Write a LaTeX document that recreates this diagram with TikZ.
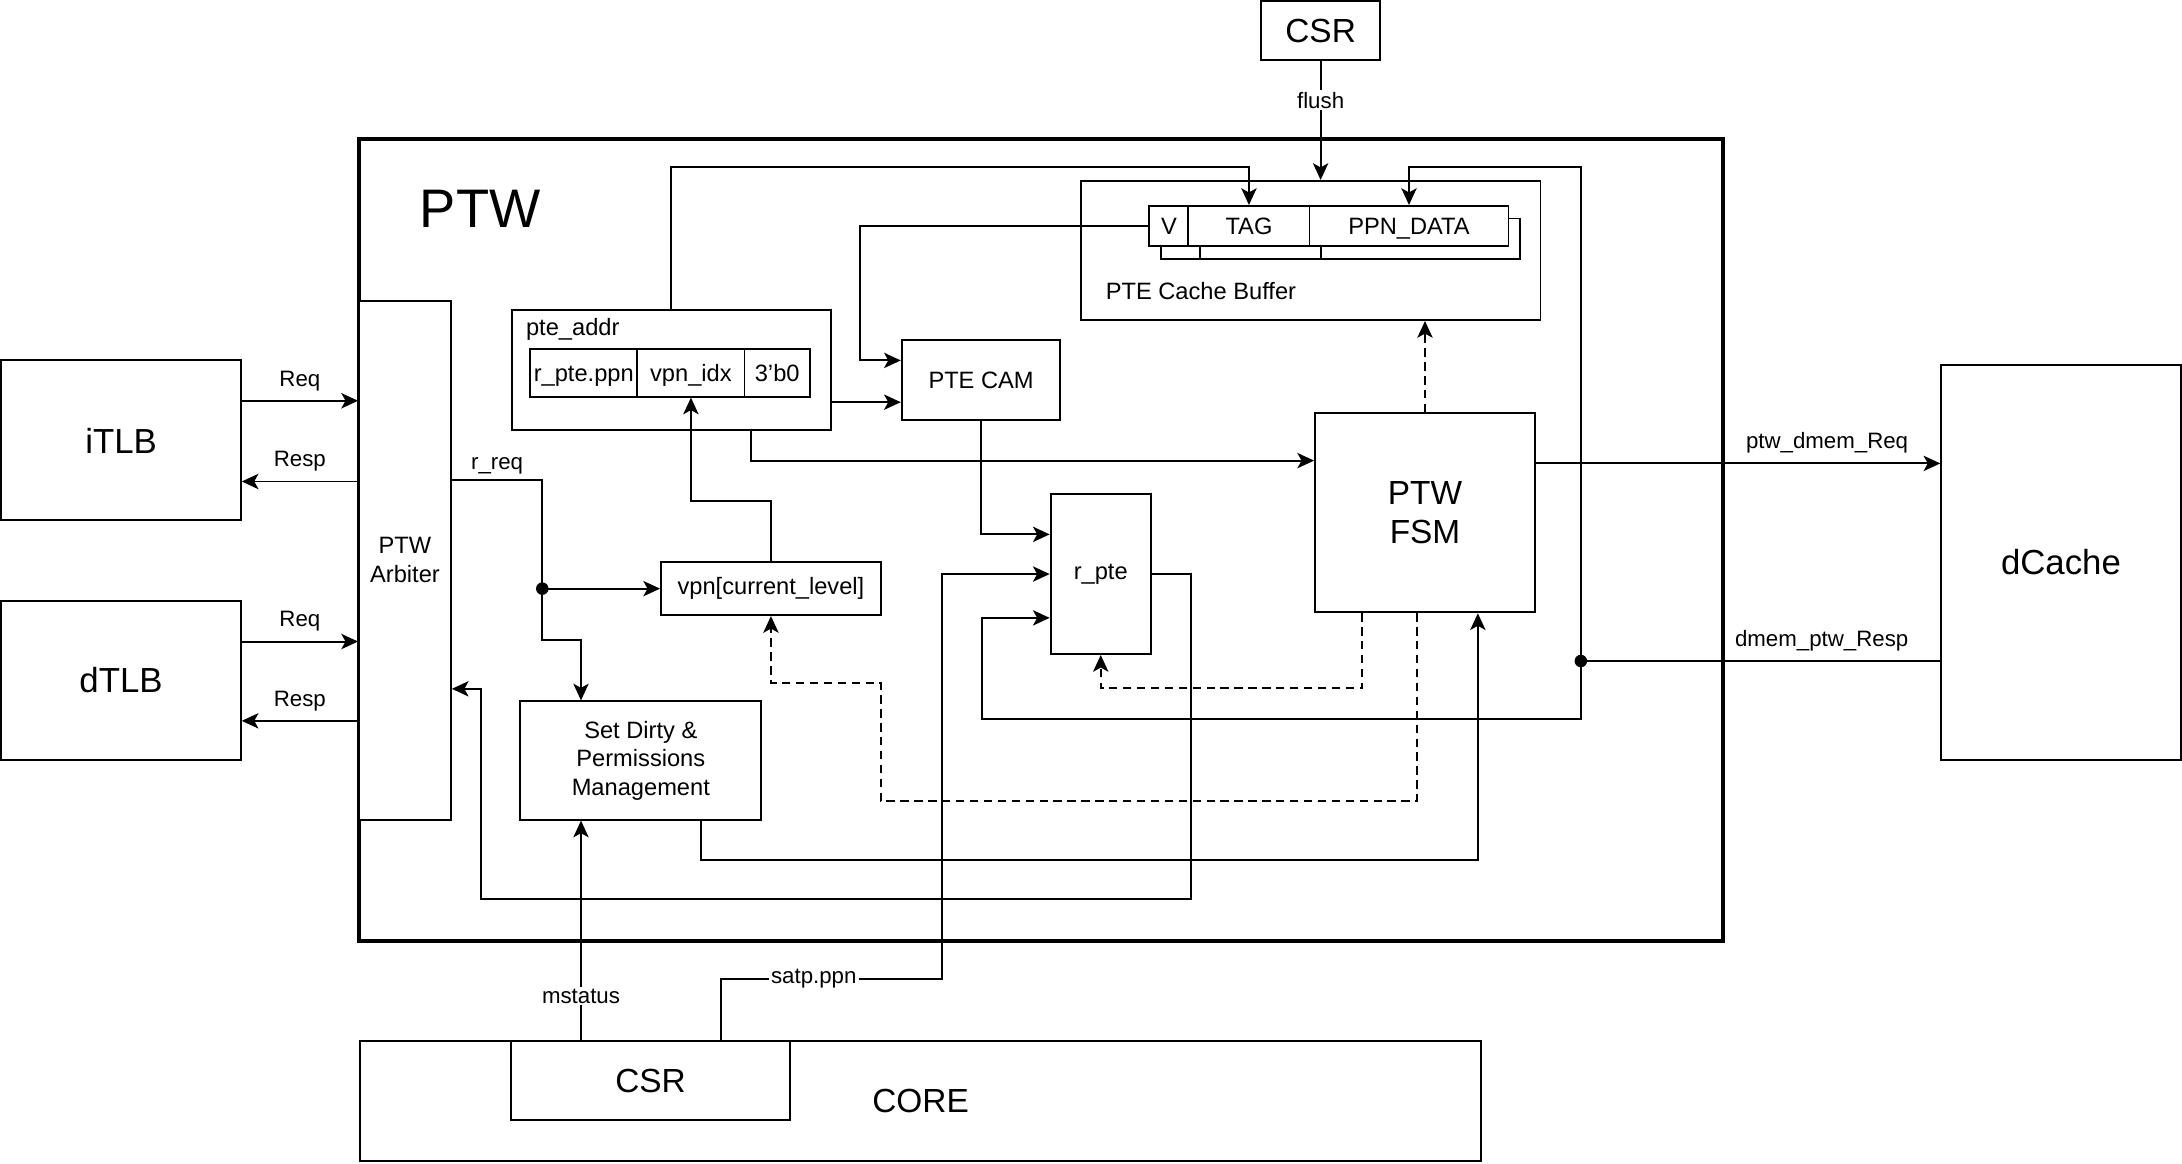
\documentclass[tikz,border=0pt]{standalone}
\usepackage{fontspec}
\setmainfont{Liberation Sans}
\usepackage{tikz}
\usetikzlibrary{arrows.meta, positioning}
\tikzstyle{block} = [draw=black, line width=1.4pt, fill=white, inner sep=0pt, align=center, font=\fontsize{17}{20.5}\selectfont]
\tikzstyle{cell} = [block, text height=12.5pt, text depth=0.3pt]
\tikzstyle{arrow} = [line width=1.4pt, ->, >={Stealth[length=12pt, width=11pt, inset=3pt]}]
\tikzstyle{dasharrow} = [arrow, dash pattern=on 6pt off 4pt]

\begin{document}
\begin{tikzpicture}[
    x=1pt, y=-1pt,
    line width=1.4pt,
    lbl/.style={font=\fontsize{16}{18}\selectfont, inner sep=1.5pt},
    big/.style={font=\fontsize{24}{28}\selectfont}
]
\useasboundingbox (0,0) rectangle (1568,836);

% Nodes
\node (ptw) [block, line width=3pt, fill=none, minimum width=980pt, minimum height=576pt] at (748,388) {};
\node (ptwlbl) [font=\fontsize{39}{44}\selectfont] at (345,150) {PTW};
\node (csrtop) [block, big, minimum width=86pt, minimum height=42pt] at (949,22) {CSR};

\node (cachebuf) [block, minimum width=330pt, minimum height=100pt] at (942,180) {};
\node (cachelbl) [font=\fontsize{17}{20}\selectfont] at (863,209) {PTE Cache Buffer};
\node (vB) [cell, minimum width=28pt, minimum height=29pt] at (848,171.5) {};
\node (tagB) [cell, minimum width=87pt, minimum height=29pt] at (905.5,171.5) {};
\node (ppnB) [cell, minimum width=143pt, minimum height=29pt] at (1020.5,171.5) {};
\node (vF) [cell, minimum width=28pt, minimum height=29pt] at (840,162.5) {V};
\node (tagF) [cell, minimum width=87pt, minimum height=29pt] at (897.5,162.5) {TAG};
\node (ppnF) [cell, minimum width=143pt, minimum height=29pt] at (1012.5,162.5) {PPN\_DATA};

\node (pteaddr) [block, minimum width=229pt, minimum height=86pt] at (482.5,266) {};
\node (addrlbl) [font=\fontsize{17}{20}\selectfont, anchor=west] at (374,237) {pte\_addr};
\node (rpteppn) [cell, minimum width=77pt, minimum height=34pt] at (419.5,268) {r\_pte.ppn};
\node (vpnidx) [cell, minimum width=77pt, minimum height=34pt] at (496.5,268) {vpn\_idx};
\node (zeros) [cell, minimum width=47pt, minimum height=34pt] at (558.5,268) {3'b0};

\node (ptecam) [block, minimum width=114pt, minimum height=58pt] at (705,273) {PTE CAM};
\node (rpte) [block, minimum width=72pt, minimum height=115pt] at (791,412.5) {r\_pte};
\node (fsm) [block, big, minimum width=158pt, minimum height=143pt] at (1024,368.5) {PTW\\FSM};
\node (vpncur) [block, minimum width=158pt, minimum height=38pt] at (554,423) {vpn[current\_level]};
\node (setdirty) [block, minimum width=173pt, minimum height=85pt] at (460.5,546.5) {Set Dirty \&\\Permissions\\Management};
\node (arbiter) [block, minimum width=66pt, minimum height=373pt] at (291,402.5) {PTW\\Arbiter};

\node (itlb) [block, font=\fontsize{25}{30}\selectfont, minimum width=172pt, minimum height=115pt] at (87,316.5) {iTLB};
\node (dtlb) [block, font=\fontsize{25}{30}\selectfont, minimum width=172pt, minimum height=114pt] at (87,489) {dTLB};
\node (dcache) [block, font=\fontsize{25}{30}\selectfont, minimum width=172pt, minimum height=284pt] at (1481,404) {dCache};

\node (core) [block, big, minimum width=805pt, minimum height=86pt] at (661.5,791) {CORE};
\node (corecsr) [block, big, minimum width=201pt, minimum height=57pt] at (467.5,776.5) {CSR};

% Coordinates
\coordinate (itlbreq) at ([shift={(0,-28.5)}]itlb.east);
\coordinate (itlbresp) at ([shift={(0,29.5)}]itlb.east);
\coordinate (dtlbreq) at ([shift={(0,-28)}]dtlb.east);
\coordinate (dtlbresp) at ([shift={(0,29)}]dtlb.east);
\coordinate (reqout) at ([shift={(0,-57.5)}]arbiter.east);
\coordinate (reqdot) at ([shift={(65,78)}]reqout);
\coordinate (respdot) at (1136,475);
\coordinate (addrout) at ([shift={(0,23)}]pteaddr.east);
\coordinate (fsmout) at ([shift={(0,-35.5)}]fsm.east);
\coordinate (mstat) at ([shift={(-43,0)}]setdirty.south);

% Arrows
\draw [arrow] (itlbreq) -- (itlbreq -| arbiter.west) node [lbl, midway, above=5pt] {Req};
\draw [arrow] (itlbresp -| arbiter.west) -- (itlbresp) node [lbl, midway, above=5pt] {Resp};
\draw [arrow] (dtlbreq) -- (dtlbreq -| arbiter.west) node [lbl, midway, above=5pt] {Req};
\draw [arrow] (dtlbresp -| arbiter.west) -- (dtlbresp) node [lbl, midway, above=5pt] {Resp};

\draw [arrow] (reqout) -- (reqout -| reqdot) node [lbl, midway, above=2pt] {r\_req} -- (reqdot) -- (vpncur.west);
\draw [arrow] (reqdot) -- ++(0,37) -| ([shift={(-43,0)}]setdirty.north);
\fill (reqdot) circle (4.5);

\draw [arrow] (vpncur.north) -- ++(0,-43) -| (vpnidx.south);
\draw [arrow] (addrout) -- (addrout -| ptecam.west);
\draw [arrow] (vF.west) -- ++(-207,0) |- ([shift={(0,-14)}]ptecam.west);
\draw [arrow] (pteaddr.north) -- ++(0,-102) -| (tagF.north);
\draw [arrow] ([shift={(57.5,0)}]pteaddr.south) |- ([shift={(0,-37.5)}]fsm.west);
\draw [arrow] (ptecam.south) |- ([shift={(0,-28.5)}]rpte.west);
\draw [arrow] (rpte.east) -- ++(28,0) -- ++(0,233.5) -- ++(-510,0) |- ([shift={(0,92.5)}]arbiter.east);

\draw (respdot -| dcache.west) -- (respdot) node [lbl, pos=0.33, above=5pt] {dmem\_ptw\_Resp};
\draw [arrow] (respdot) -- ++(0,-355) -| (ppnF.north);
\draw [arrow] (respdot) -- ++(0,42) -- ++(-430,0) |- ([shift={(0,31.5)}]rpte.west);
\fill (respdot) circle (4.5);

\draw [arrow] (fsmout) -- (fsmout -| dcache.west) node [lbl, pos=0.72, above=5pt] {ptw\_dmem\_Req};
\draw [arrow] (csrtop.south) -- (csrtop.south |- cachebuf.north) node [lbl, pos=0.33, fill=white] {flush};

\draw [dasharrow] (fsm.north) -- (fsm.north |- cachebuf.south);
\draw [dasharrow] ([shift={(-45,0)}]fsm.south) -- ++(0,54) -| (rpte.south);
\draw [dasharrow] ([shift={(-6,0)}]fsm.south) -- ++(0,135) -- ++(-385,0) -- ++(0,-85) -| (vpncur.south);

\draw [arrow] ([shift={(43.5,0)}]setdirty.south) -- ++(0,28) -| ([shift={(38,0)}]fsm.south);
\draw [arrow] (mstat |- corecsr.north) -- (mstat) node [lbl, pos=0.2, fill=white] {mstatus};
\draw [arrow] ([shift={(50.5,0)}]corecsr.north) -- ++(0,-44) -- ++(159,0) node [lbl, pos=0.42, fill=white] {satp.ppn} |- (rpte.west);

\end{tikzpicture}
\end{document}
